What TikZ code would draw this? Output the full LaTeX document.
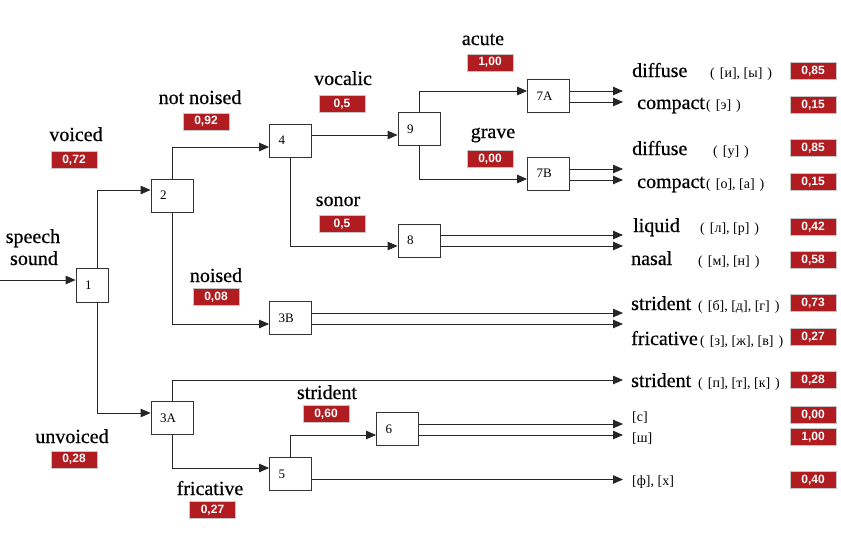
\documentclass[tikz,border=0pt]{standalone}
\usepackage{fontspec}
\setmainfont{Liberation Serif}
\newfontfamily\valfont{Liberation Sans}
\newfontfamily\labfont{Liberation Serif}[FakeBold=0.6]
\usepackage{tikz}
\usetikzlibrary{calc}
\usetikzlibrary{arrows.meta}
\usetikzlibrary{positioning}
\definecolor{valred}{RGB}{176,28,32}
\tikzset{
 blk/.style={draw=black!80, line width=.8pt, fill=white, minimum height=33pt, text width=24pt, inner xsep=9pt, inner ysep=0pt, align=left, font=\rmfamily\fontsize{13}{15}\selectfont},
 val/.style={fill=valred, draw=gray!45, line width=.6pt, text=white, font=\valfont\bfseries\fontsize{12}{14}\selectfont, minimum width=46pt, minimum height=17pt, inner sep=0pt},
 lab/.style={font=\labfont\fontsize{20}{22}\selectfont, inner sep=0pt},
 ipa/.style={font=\rmfamily\fontsize{14}{16}\selectfont, inner sep=0pt},
 arr/.style={->, >={Triangle[length=10pt,width=8.5pt]}, line width=.8pt, black!85},
}
\newcommand{\pp}[1]{(\hspace{5pt}#1\hspace{5pt})}

\begin{document}
\begin{tikzpicture}[x=1pt,y=-1pt]
\useasboundingbox (0,0) rectangle (841,539);
\node[blk, text width=14pt, minimum height=34pt] (n1) at (92,285) {1};
\node[blk] (n2) at (172,195.5) {2};
\node[blk] (n4) at (290.5,140.5) {4};
\node[blk] (n9) at (419,129) {9};
\node[blk] (n7A) at (548.5,96) {7A};
\node[blk] (n7B) at (548.5,173.5) {7B};
\node[blk] (n8) at (419,240.5) {8};
\node[blk] (n3B) at (290.5,318) {3B};
\node[blk] (n3A) at (172,418) {3A};
\node[blk] (n5) at (290.5,474) {5};
\node[blk] (n6) at (397.5,429) {6};

\coordinate (src) at (0,280);
\coordinate (ends) at (623,0);
\coordinate (e3A) at (623,380);
\coordinate (n9in) at ([yshift=-6pt]n9.west);
\draw[arr] (src) -- ([yshift=5pt]n1.west);
\draw[arr] ([xshift=5pt]n1.north) |- ([yshift=5.5pt]n2.west);
\draw[arr] ([xshift=5pt]n1.south) |- ([yshift=5pt]n3A.west);
\draw[arr] (n2.north) |- ([yshift=-6.5pt]n4.west);
\draw[arr] (n2.south) |- ([yshift=-6pt]n3B.west);
\draw[arr] (n4.east |- n9in) -- (n9in);
\draw[arr] (n4.south) |- ([yshift=-5.5pt]n8.west);
\draw[arr] (n9.north) |- ([yshift=5pt]n7A.west);
\draw[arr] (n9.south) |- ([yshift=-5.5pt]n7B.west);
\draw[arr] (n3A.north) |- (e3A);
\draw[arr] (n3A.south) |- ([yshift=6pt]n5.west);
\draw[arr] (n5.north) |- ([yshift=-6pt]n6.west);
\draw[arr] ([yshift=-5.5pt]n5.east) -- ([yshift=-5.5pt]n5.east -| ends);
\foreach \b/\u/\d in {n7A/5/6, n7B/4.5/6.5, n8/5.5/5.5, n3B/5/6, n6/5/6} {
 \draw[arr] ([yshift=\u pt]\b.east) -- ([yshift=\u pt]\b.east -| ends);
 \draw[arr] ([yshift=-\d pt]\b.east) -- ([yshift=-\d pt]\b.east -| ends);
}

\node[lab, anchor=base] (speech) at (33,243) {speech};
\node[lab, anchor=base] (sound) at (34,265) {sound};
\node[lab, anchor=base] (voiced) at (76,141) {voiced};
\node[val] (v072) at (74,160) {0,72};
\node[lab, anchor=base] (unvoiced) at (72,443) {unvoiced};
\node[val] (v028a) at (74,459.5) {0,28};
\node[lab, anchor=base] (notnoised) at (200,104) {not noised};
\node[val] (v092) at (206,121.5) {0,92};
\node[lab, anchor=base] (noised) at (216,282) {noised};
\node[val] (v008) at (216,297) {0,08};
\node[lab, anchor=base] (vocalic) at (343,85) {vocalic};
\node[val] (v05a) at (342,104) {0,5};
\node[lab, anchor=base] (sonor) at (338,206) {sonor};
\node[val] (v05b) at (342,224) {0,5};
\node[lab, anchor=base] (acute) at (483,45) {acute};
\node[val] (v100a) at (490,62.5) {1,00};
\node[lab, anchor=base] (grave) at (493,138) {grave};
\node[val] (v000a) at (490,159) {0,00};
\node[lab, anchor=base] (strid) at (327,399) {strident};
\node[val] (v060) at (326,414) {0,60};
\node[lab, anchor=base] (fric) at (210,495) {fricative};
\node[val] (v027a) at (212.5,510) {0,27};

\node[lab, anchor=base west] (diff1) at (632,77) {diffuse};
\node[ipa, anchor=base west] at (710,77) {\pp{[и], [ы]}};
\node[val] at (813,71) {0,85};
\node[lab, anchor=base west] (comp1) at (637,109) {compact};
\node[ipa, anchor=base west] at (706,109) {\pp{[э]}};
\node[val] at (813,105) {0,15};
\node[lab, anchor=base west] (diff2) at (632,155) {diffuse};
\node[ipa, anchor=base west] at (713,155) {\pp{[у]}};
\node[val] at (813,148) {0,85};
\node[lab, anchor=base west] (comp2) at (637,188) {compact};
\node[ipa, anchor=base west] at (706,188) {\pp{[о], [а]}};
\node[val] at (813,182) {0,15};
\node[lab, anchor=base west] (liquid) at (633,232) {liquid};
\node[ipa, anchor=base west] at (700,232) {\pp{[л], [р]}};
\node[val] at (813,227) {0,42};
\node[lab, anchor=base west] (nasal) at (631,265) {nasal};
\node[ipa, anchor=base west] at (698,265) {\pp{[м], [н]}};
\node[val] at (813,260) {0,58};
\node[lab, anchor=base west] (strid1) at (631,310) {strident};
\node[ipa, anchor=base west] at (698,310) {\pp{[б], [д], [г]}};
\node[val] at (813,303) {0,73};
\node[lab, anchor=base west] (fric1) at (631,345) {fricative};
\node[ipa, anchor=base west] at (700,345) {\pp{[з], [ж], [в]}};
\node[val] at (813,337) {0,27};
\node[lab, anchor=base west] (strid2) at (631,387) {strident};
\node[ipa, anchor=base west] at (698,387) {\pp{[п], [т], [к]}};
\node[val] at (813,380) {0,28};
\node[ipa, anchor=base west] (s) at (632,421) {[с]};
\node[val] at (813,415) {0,00};
\node[ipa, anchor=base west] (sh) at (632,442) {[ш]};
\node[val] at (813,437) {1,00};
\node[ipa, anchor=base west] (fx) at (632,485) {[ф], [х]};
\node[val] at (813,480) {0,40};
\end{tikzpicture}
\end{document}
